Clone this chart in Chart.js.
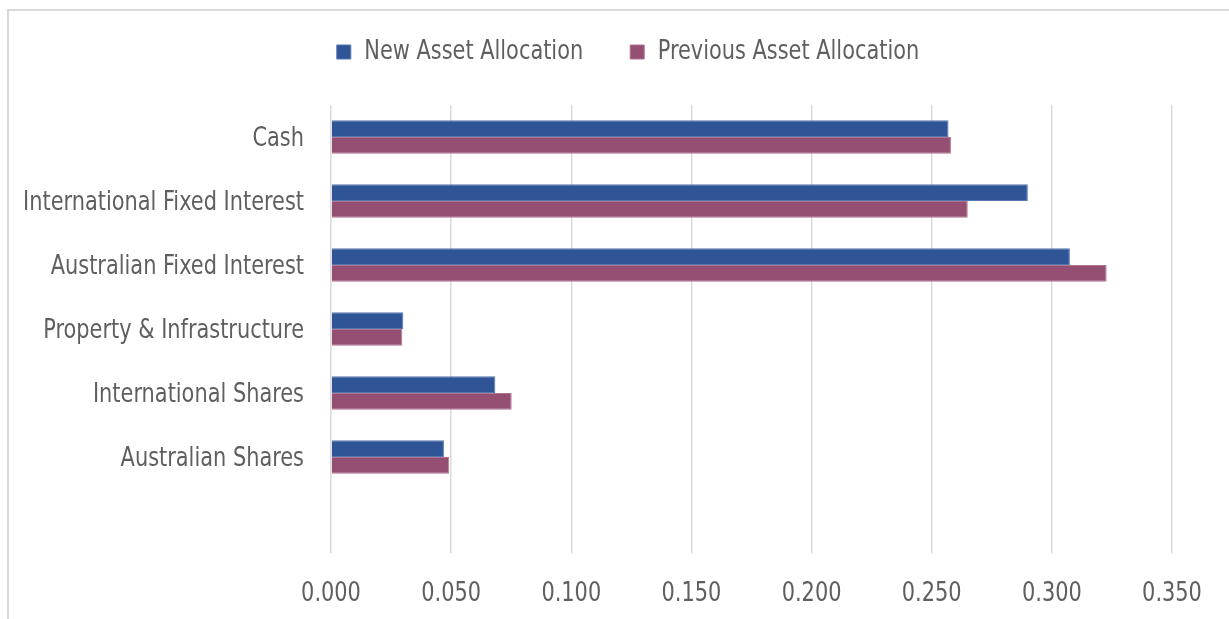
<!DOCTYPE html>
<html>
<head>
<meta charset="utf-8">
<script src="https://cdn.jsdelivr.net/npm/chart.js@4"></script>
<style>
    html, body { margin: 0; padding: 0; background: #fff; }
    #wrap { position: relative; width: 1229px; height: 619px; overflow: hidden; }
    #frame { position: absolute; left: 7px; top: 9px; width: 1240px; height: 630px;
             border-top: 2px solid #d9d9d9; border-left: 2px solid #d9d9d9; box-sizing: border-box; }
    canvas { position: absolute; left: 0; top: 0; }
</style>
</head>
<body>
<div id="wrap">
    <div id="frame"></div>
    <canvas id="myChart" width="1229" height="619"></canvas>
</div>
<script>
// data
let categories = ['Cash', 'International Fixed Interest', 'Australian Fixed Interest',
    'Property & Infrastructure', 'International Shares', 'Australian Shares', '']
let newAllocation = [0.257, 0.290, 0.3075, 0.0301, 0.0684, 0.047, null]
let prevAllocation = [0.258, 0.265, 0.3228, 0.0297, 0.0752, 0.0492, null]
let xTickValues = [0, 0.05, 0.10, 0.15, 0.20, 0.25, 0.30, 0.35]

let fontFamily = "'Liberation Sans Narrow', 'DejaVu Sans Condensed', Roboto, sans-serif"
let fontSize = 27
let textColor = '#5f5f5f'

let ctx = document.getElementById('myChart').getContext('2d')

// the original font is a narrow one, squeeze the text a bit so it fits the same width
const squeeze = 0.86
const rawMeasure = ctx.measureText.bind(ctx)
const rawFill = ctx.fillText.bind(ctx)
ctx.measureText = function (text) {
    let m = rawMeasure(text)
    return {
        width: m.width * squeeze,
        actualBoundingBoxAscent: m.actualBoundingBoxAscent,
        actualBoundingBoxDescent: m.actualBoundingBoxDescent,
        actualBoundingBoxLeft: m.actualBoundingBoxLeft * squeeze,
        actualBoundingBoxRight: m.actualBoundingBoxRight * squeeze
    }
}
ctx.fillText = function (text, x, y, maxWidth) {
    let w = rawMeasure(text).width * squeeze
    rawFill(text, x, y, maxWidth !== undefined ? Math.min(maxWidth, w) : w)
}

// push the legend up and leave a gap below it, like the excel layout
let legendPlacement = {
    id: 'legendPlacement',
    beforeInit(chart) {
        let fit = chart.legend.fit
        chart.legend.fit = function () {
            fit.bind(chart.legend)()
            this.height += 21
        }
    },
    afterLayout(chart) {
        let lg = chart.legend
        lg.top -= 8.5
        lg.bottom -= 8.5
        lg.left += 42
        lg.right += 42
    }
}

let myChart = new Chart(ctx, {
    type: 'bar',
    data: {
        labels: categories,
        datasets: [{
            label: 'New Asset Allocation',
            data: newAllocation,
            backgroundColor: '#2f5597',
            borderColor: '#5577b0',
            borderWidth: 1,
            categoryPercentage: 0.52,
            barPercentage: 1.0
        }, {
            label: 'Previous Asset Allocation',
            data: prevAllocation,
            backgroundColor: '#954f72',
            borderColor: '#b07590',
            borderWidth: 1,
            categoryPercentage: 0.52,
            barPercentage: 1.0
        }]
    },
    plugins: [legendPlacement],
    options: {
        indexAxis: 'y',
        responsive: false,
        animation: false,
        layout: {
            padding: { left: 0, right: 57, top: 0, bottom: 0 }
        },
        plugins: {
            tooltip: { enabled: false },
            legend: {
                position: 'top',
                labels: {
                    color: textColor,
                    font: { family: fontFamily, size: fontSize },
                    boxWidth: 14,
                    boxHeight: 14,
                    padding: 47
                }
            }
        },
        scales: {
            x: {
                min: 0,
                max: 0.35,
                afterBuildTicks: scale => {
                    scale.ticks = xTickValues.map(v => ({ value: v }))
                },
                afterFit: scale => { scale.height = 66 },
                border: { display: false },
                grid: { color: '#d9d9d9', lineWidth: 1.5, drawTicks: false },
                ticks: {
                    color: textColor,
                    font: { family: fontFamily, size: fontSize },
                    padding: 25,
                    callback: v => Number(v).toFixed(3)
                }
            },
            y: {
                afterFit: scale => { scale.width = 331 },
                border: { display: false },
                grid: { display: false, drawTicks: false },
                ticks: {
                    color: textColor,
                    font: { family: fontFamily, size: fontSize },
                    padding: 27,
                    labelOffset: 2
                }
            }
        }
    }
});
</script>
</body>
</html>
